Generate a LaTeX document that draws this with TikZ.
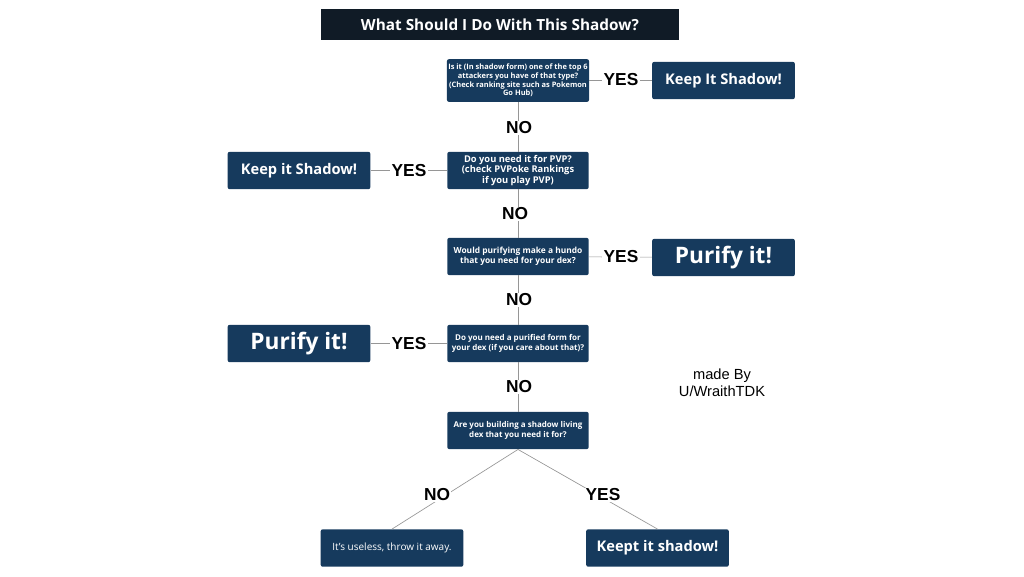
\documentclass[tikz,border=0pt]{standalone}
\usepackage{fontspec}
\setmainfont{Open Sans}
\newfontfamily\labfont{Liberation Sans}
\usetikzlibrary{positioning}
\definecolor{boxnavy}{RGB}{22,58,93}
\definecolor{titledark}{RGB}{16,27,38}
\definecolor{linegray}{RGB}{150,150,150}

\begin{document}
\begin{tikzpicture}[
      x=0.75pt, y=-0.75pt,
      qbox/.style={rectangle, draw=none, fill=boxnavy, rounded corners=1.5pt, text=white, align=center, font=\bfseries\fontsize{5.6}{6.4}\selectfont, minimum width=106pt, minimum height=28pt, inner sep=1pt},
      abox/.style={rectangle, fill=boxnavy, rounded corners=1.5pt, text=white, align=center, font=\bfseries\fontsize{11}{13}\selectfont, minimum width=107pt, minimum height=28pt},
      bigbox/.style={abox, font=\bfseries\fontsize{17}{19}\selectfont},
      ans/.style={fill=white, font=\labfont\bfseries\fontsize{13}{15}\selectfont, inner sep=1pt},
      link/.style={draw=linegray, line width=0.5pt}
    ]
    \useasboundingbox (0,0) rectangle (1024,576);

    % title
    \node[fill=titledark, text=white, font=\bfseries\fontsize{11.5}{13}\selectfont, minimum width=268pt, minimum height=23pt] (title) at (500,24.5) {What Should I Do With This Shadow?};

    % questions
    \node[qbox, minimum height=32pt] (q1) at (518,80.5) {Is it (In shadow form) one of the top 6\\attackers you have of that type?\\(Check ranking site such as Pokemon\\Go Hub)};
    \node[qbox, font=\bfseries\fontsize{7}{8}\selectfont] (q2) at (518,170.5) {Do you need it for PVP?\\(check PVPoke Rankings\\if you play PVP)};
    \node[qbox, font=\bfseries\fontsize{6.3}{7.5}\selectfont] (q3) at (518,256.5) {Would purifying make a hundo\\that you need for your dex?};
    \node[qbox, font=\bfseries\fontsize{6}{7.5}\selectfont] (q4) at (518,343.5) {Do you need a purified form for\\your dex (if you care about that)?};
    \node[qbox, font=\bfseries\fontsize{6}{7.5}\selectfont] (q5) at (518,430.5) {Are you building a shadow living\\dex that you need it for?};

    % answers
    \node[abox] (keepA) at (723.5,80.5) {Keep It Shadow!};
    \node[abox] (keepB) at (299,170.5) {Keep it Shadow!};
    \node[bigbox] (purA) at (723.5,257.5) {Purify it!};
    \node[bigbox] (purB) at (299,343.5) {Purify it!};
    \node[abox, font=\fontsize{7.5}{9}\selectfont] (useless) at (392,548) {It's useless, throw it away.};
    \node[abox] (keepC) at (657.5,548) {Keept it shadow!};

    % trunk
    \draw[link] (q1) -- (q2);
    \draw[link] (q2) -- (q3);
    \draw[link] (q3) -- (q4);
    \draw[link] (q4) -- (q5);
    \draw[link] (q1) -- (keepA);
    \draw[link] (q2) -- (keepB);
    \draw[link] (q3) -- (purA);
    \draw[link] (q4) -- (purB);
    \draw[link] (q5.south) -- (useless.north);
    \draw[link] (q5.south) -- (keepC.north);

    % labels
    \node[ans] (n1) at (519,128) {NO};
    \node[ans] (n2) at (515,214) {NO};
    \node[ans] (n3) at (519,300) {NO};
    \node[ans] (n4) at (519,387) {NO};
    \node[ans] (y1) at (621,80) {YES};
    \node[ans] (y2) at (409,171) {YES};
    \node[ans] (y3) at (621,257) {YES};
    \node[ans] (y4) at (409,344) {YES};
    \node[ans] (n5) at (437,495) {NO};
    \node[ans] (y5) at (603,495) {YES};

    \node[font=\labfont\fontsize{11}{12.5}\selectfont, align=center] (credit) at (722,383) {made By\\U/WraithTDK};
\end{tikzpicture}
\end{document}
